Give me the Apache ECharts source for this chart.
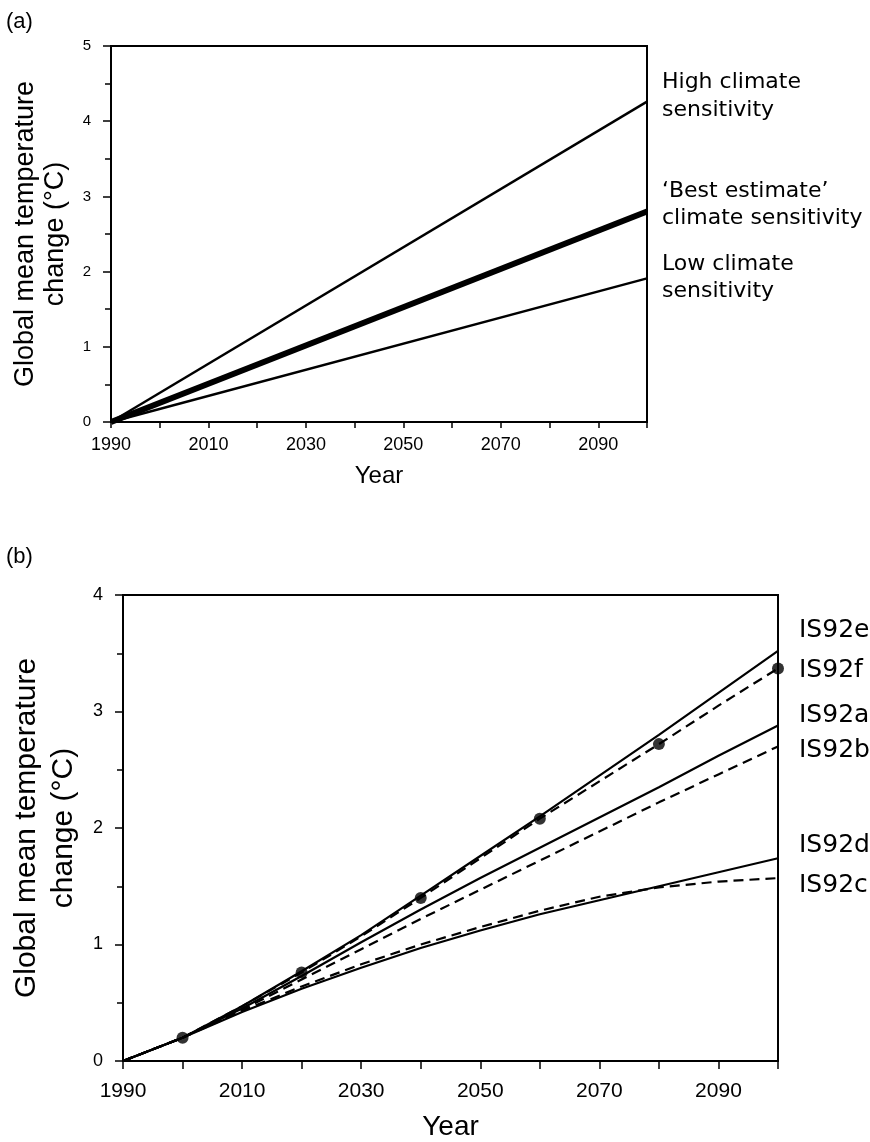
<!DOCTYPE html>
<html lang="en">
  <head>
    <meta charset="UTF-8" />
    <title>Global mean temperature change</title>
    <script src="https://cdn.jsdelivr.net/npm/echarts@6/dist/echarts.min.js"></script>
    <style>
      body {
        margin: 0;
        background: #fff;
      }
      #chart {
        width: 870px;
        height: 1142px;
      }
    </style>
  </head>
  <body>
    <div id="chart"></div>
  </body>
</html>
<script>
  // (a) climate sensitivity, straight lines 1990 -> 2100
  const yearsA = [1990, 2100];
  const highSens = [0, 4.26];
  const bestSens = [0, 2.8];
  const lowSens = [0, 1.91];

  // (b) IS92 scenarios, every 10 years
  const yearsB = [1990, 2000, 2010, 2020, 2030, 2040, 2050, 2060, 2070, 2080, 2090, 2100];
  const is92e = [0, 0.2, 0.47, 0.77, 1.08, 1.42, 1.76, 2.1, 2.45, 2.8, 3.16, 3.52];
  const is92f = [0, 0.2, 0.47, 0.76, 1.07, 1.4, 1.74, 2.08, 2.4, 2.72, 3.05, 3.37];
  const is92a = [0, 0.2, 0.45, 0.73, 1.02, 1.3, 1.57, 1.83, 2.09, 2.35, 2.62, 2.88];
  const is92b = [0, 0.2, 0.44, 0.7, 0.96, 1.22, 1.47, 1.72, 1.97, 2.22, 2.46, 2.7];
  const is92d = [0, 0.2, 0.42, 0.62, 0.8, 0.97, 1.12, 1.26, 1.38, 1.5, 1.62, 1.74];
  const is92c = [0, 0.2, 0.43, 0.64, 0.83, 1.0, 1.15, 1.29, 1.41, 1.49, 1.54, 1.57];
  const dotYears = [2000, 2020, 2040, 2060, 2080, 2100];

  const pairs = (xs, ys) => xs.map((x, i) => [x, ys[i]]);
  const dots = pairs(yearsB, is92f).filter((d) => dotYears.includes(d[0]));

  const black = "#000";
  const sans = "'Liberation Sans', Arial, sans-serif";
  const wide = "'DejaVu Sans', sans-serif";

  const chart = echarts.init(document.getElementById("chart"));

  function yearAxis(grid, fontSize, margin, nameSize, nameGap, tickLen) {
    return {
      type: "value",
      gridIndex: grid,
      min: 1990,
      max: 2100,
      interval: 10,
      name: "Year",
      nameLocation: "middle",
      nameGap: nameGap,
      nameTextStyle: { color: black, fontSize: nameSize, fontFamily: sans },
      axisLine: { show: true, lineStyle: { color: black, width: 2 } },
      axisTick: { show: true, length: tickLen, lineStyle: { color: black, width: 1.5 } },
      axisLabel: {
        color: black,
        fontSize: fontSize,
        fontFamily: sans,
        margin: margin,
        formatter: (v) => ((v - 1990) % 20 === 0 && v < 2100 ? String(v) : ""),
      },
      splitLine: { show: false },
    };
  }

  function tempAxis(grid, max, fontSize, nameSize, lineHeight, nameGap) {
    return {
      type: "value",
      gridIndex: grid,
      min: 0,
      max: max,
      interval: 1,
      name: "Global mean temperature\nchange (°C)",
      nameLocation: "middle",
      nameRotate: 90,
      nameGap: nameGap,
      nameTextStyle: { color: black, fontSize: nameSize, fontFamily: sans, lineHeight: lineHeight },
      axisLine: { show: true, lineStyle: { color: black, width: 2 } },
      axisTick: { show: true, length: 8, lineStyle: { color: black, width: 1.5 } },
      minorTick: { show: true, splitNumber: 2, length: 6, lineStyle: { color: black, width: 1.5 } },
      axisLabel: { color: black, fontSize: fontSize, fontFamily: sans, margin: 20 },
      splitLine: { show: false },
      minorSplitLine: { show: false },
    };
  }

  const solid = (w) => ({ color: black, width: w, type: "solid" });
  const dashed = { color: black, width: 2.2, type: [10, 6] };

  function line(xi, data, style) {
    return {
      type: "line",
      xAxisIndex: xi,
      yAxisIndex: xi,
      data: data,
      symbol: "none",
      lineStyle: style,
      silent: true,
    };
  }

  const option = {
    animation: false,
    backgroundColor: "#fff",
    grid: [
      { left: 111, top: 46, width: 536, height: 376, show: true, borderColor: black, borderWidth: 2 },
      { left: 123, top: 595, width: 655, height: 468, show: true, borderColor: black, borderWidth: 2 },
    ],
    xAxis: [yearAxis(0, 18, 14, 24, 42, 6), yearAxis(1, 21, 20, 28, 52, 8)],
    yAxis: [tempAxis(0, 5, 15, 27, 30, 40), tempAxis(1, 4, 18, 30, 37, 40)],
    series: [
      line(0, pairs(yearsA, highSens), solid(2.4)),
      line(0, pairs(yearsA, bestSens), solid(6)),
      line(0, pairs(yearsA, lowSens), solid(2.4)),
      line(1, pairs(yearsB, is92e), solid(2.2)),
      line(1, pairs(yearsB, is92f), dashed),
      line(1, pairs(yearsB, is92a), solid(2.2)),
      line(1, pairs(yearsB, is92b), dashed),
      line(1, pairs(yearsB, is92d), solid(2.2)),
      line(1, pairs(yearsB, is92c), dashed),
      {
        type: "scatter",
        xAxisIndex: 1,
        yAxisIndex: 1,
        data: dots,
        symbol: "circle",
        symbolSize: 12,
        itemStyle: { color: black },
        clip: false,
        silent: true,
      },
    ],
    graphic: [
      { type: "text", x: 6, y: 22, style: { text: "(a)", font: "22px " + sans, fill: black, verticalAlign: "middle" } },
      { type: "text", x: 6, y: 557, style: { text: "(b)", font: "22px " + sans, fill: black, verticalAlign: "middle" } },
      // (a) right-hand labels
      { type: "text", x: 662, y: 68, style: { text: "High climate\nsensitivity", font: "22px " + wide, lineHeight: 28, fill: black, verticalAlign: "top" } },
      { type: "text", x: 662, y: 178, style: { text: "‘Best estimate’\nclimate sensitivity", font: "22px " + wide, lineHeight: 27, fill: black, verticalAlign: "top" } },
      { type: "text", x: 662, y: 251, style: { text: "Low climate\nsensitivity", font: "22px " + wide, lineHeight: 27, fill: black, verticalAlign: "top" } },
      // (b) scenario labels
      { type: "text", x: 799, y: 630, style: { text: "IS92e", font: "25px " + wide, fill: black, verticalAlign: "middle" } },
      { type: "text", x: 799, y: 670, style: { text: "IS92f", font: "25px " + wide, fill: black, verticalAlign: "middle" } },
      { type: "text", x: 799, y: 715, style: { text: "IS92a", font: "25px " + wide, fill: black, verticalAlign: "middle" } },
      { type: "text", x: 799, y: 750, style: { text: "IS92b", font: "25px " + wide, fill: black, verticalAlign: "middle" } },
      { type: "text", x: 799, y: 845, style: { text: "IS92d", font: "25px " + wide, fill: black, verticalAlign: "middle" } },
      { type: "text", x: 799, y: 885, style: { text: "IS92c", font: "25px " + wide, fill: black, verticalAlign: "middle" } },
    ],
  };
  chart.setOption(option);
</script>
